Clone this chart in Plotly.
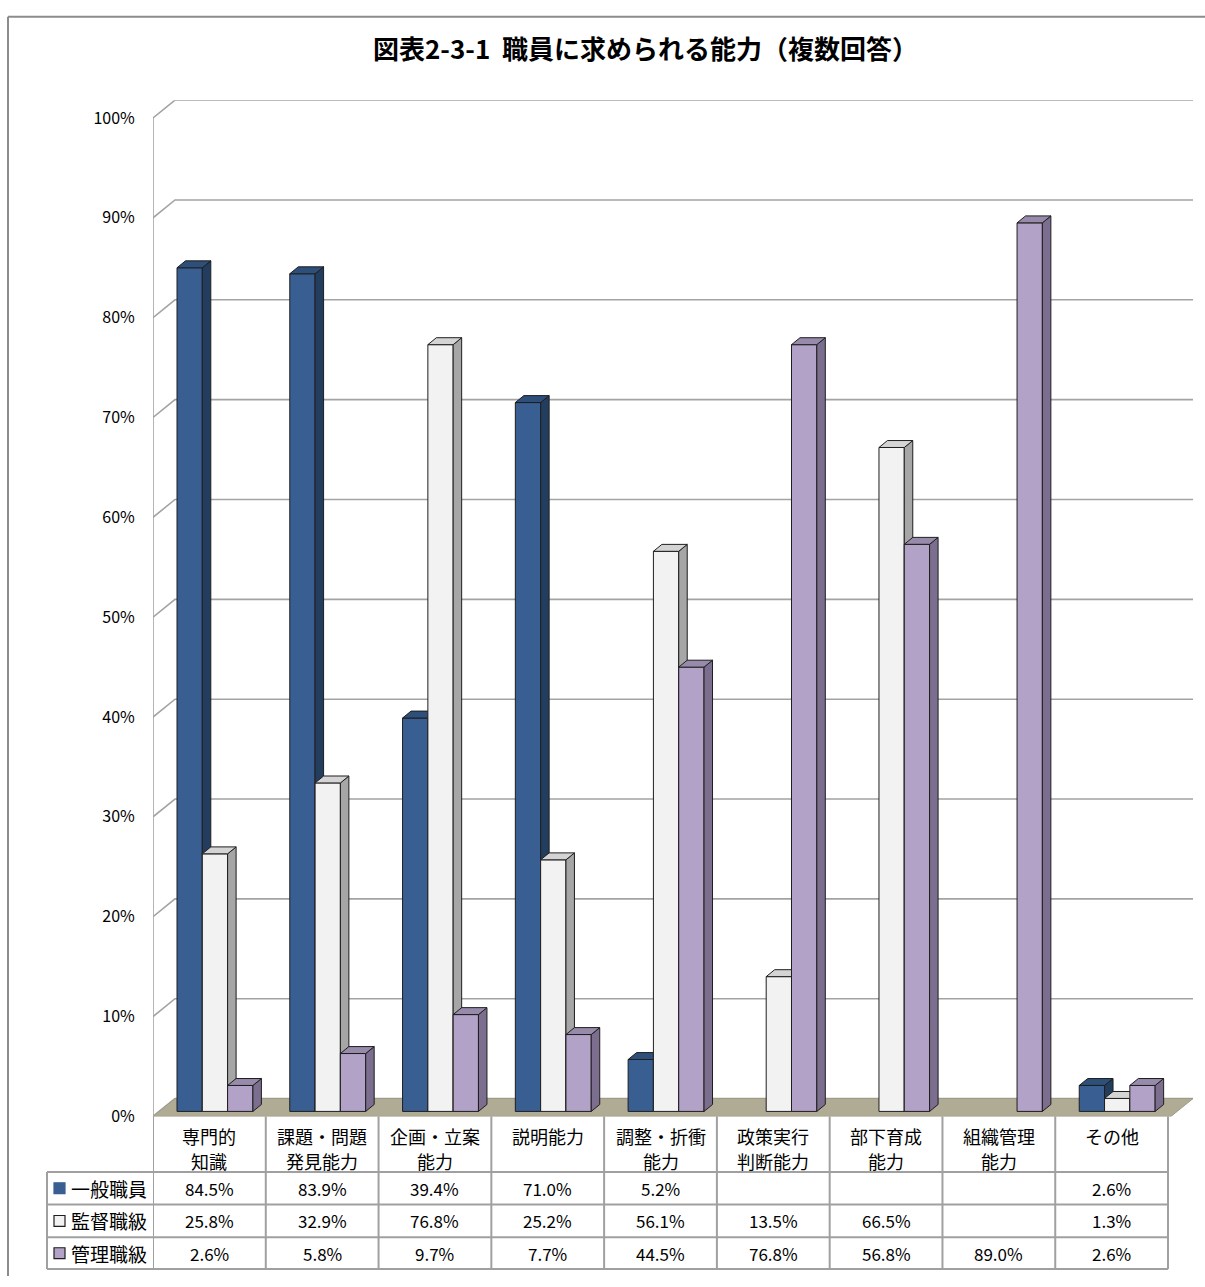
import plotly.graph_objects as go

# ---------------- data ----------------
categories = ["専門的<br>知識", "課題・問題<br>発見能力", "企画・立案<br>能力", "説明能力",
              "調整・折衝<br>能力", "政策実行<br>判断能力", "部下育成<br>能力", "組織管理<br>能力", "その他"]
series_names = ["一般職員", "監督職級", "管理職級"]
general = [84.5, 83.9, 39.4, 71.0, 5.2, None, None, None, 2.6]
supervisor = [25.8, 32.9, 76.8, 25.2, 56.1, 13.5, 66.5, None, 1.3]
manager = [2.6, 5.8, 9.7, 7.7, 44.5, 76.8, 56.8, 89.0, 2.6]
tick_values = [0, 10, 20, 30, 40, 50, 60, 70, 80, 90, 100]
tick_labels = [f"{t}%" for t in tick_values]
title_text = "図表2-3-1  職員に求められる能力（複数回答）"

series_values = [general, supervisor, manager]
front_colors = ["#395f92", "#f2f2f2", "#b3a2c7"]
side_colors = ["#233d5f", "#a6a6a6", "#7b6e8e"]
top_colors = ["#2d4f7a", "#d4d4d4", "#978aab"]
key_colors = ["#395f92", "#f2f2f2", "#b3a2c7"]

FONT = "Noto Sans CJK JP"

# ---------------- geometry ----------------
W, H = 1205, 1287
PX_X0 = 153.0
CAT_W = 112.78
X_RIGHT = 1195.0
Y0_PX = 1126.0
UNIT_PX = 1007.0
Y_TOP_PX = 101.0


def py(ypx):
    return (H - ypx) / H


xr0 = -0.5
xr1 = -0.5 + (X_RIGHT - PX_X0) / CAT_W
yr1 = (Y0_PX - Y_TOP_PX) / UNIT_PX

DX = 22 / CAT_W
DY = 18 / UNIT_PX
BACK_R = -0.5 + (1193 - PX_X0) / CAT_W
BW = 25.3 / CAT_W
BOFF = 24 / CAT_W
BBASE = 5 / UNIT_PX
DDX = 8.5 / CAT_W
DDY = 7 / UNIT_PX

fig = go.Figure()

# ---------------- bars (front, side, top faces) ----------------
for s, vals in enumerate(series_values):
    fx, fy, sx, sy, tx, ty = [], [], [], [], [], []
    for i, v in enumerate(vals):
        if v is None:
            continue
        x0 = i - 0.5 + BOFF + s * BW
        x1 = x0 + BW
        y0 = BBASE
        y1 = BBASE + v / 100.0
        fx += [x0, x1, x1, x0, x0, None]
        fy += [y0, y0, y1, y1, y0, None]
        sx += [x1, x1 + DDX, x1 + DDX, x1, x1, None]
        sy += [y0, y0 + DDY, y1 + DDY, y1, y0, None]
        tx += [x0, x0 + DDX, x1 + DDX, x1, x0, None]
        ty += [y1, y1 + DDY, y1 + DDY, y1, y1, None]
    for xs, ys, col in ((fx, fy, front_colors[s]), (sx, sy, side_colors[s]), (tx, ty, top_colors[s])):
        fig.add_trace(go.Scatter(x=xs, y=ys, mode="lines", fill="toself", fillcolor=col,
                                 line=dict(color="#1e1e1e", width=1), hoverinfo="skip",
                                 showlegend=False))

shapes = []
# outer frame
shapes.append(dict(type="line", xref="paper", yref="paper", x0=8 / W, x1=1.0, y0=py(17), y1=py(17),
                   line=dict(color="#8c8c8c", width=2)))
shapes.append(dict(type="line", xref="paper", yref="paper", x0=8 / W, x1=8 / W, y0=py(17), y1=0,
                   line=dict(color="#8c8c8c", width=2)))

# back-wall gridlines
for t in tick_values:
    yv = t / 100.0
    shapes.append(dict(type="path", xref="x", yref="y", layer="below",
                       path=f"M {-0.5} {yv} L {-0.5 + DX} {yv + DY} L {BACK_R} {yv + DY}",
                       line=dict(color="#a3a3a3", width=1.6)))
# floor
shapes.append(dict(type="path", xref="x", yref="y", layer="below",
                   path=f"M {-0.5} 0 L {-0.5 + DX} {DY} L {BACK_R} {DY} L {BACK_R - DX} 0 Z",
                   fillcolor="#b0ab95", line=dict(color="#a09b85", width=1)))
# left wall vertical edge
shapes.append(dict(type="line", xref="x", yref="y", layer="below", x0=-0.5, x1=-0.5, y0=0, y1=1.0,
                   line=dict(color="#a3a3a3", width=1.6)))

# ---------------- data table ----------------
TBL_TOP = 1126
ROW_LINES = [1182, 1215, 1248, 1280]
TBL_LEFT = 47
grid_col = "#a0a0a0"
n = len(categories)
for k in range(n + 1):
    xb = k - 0.5
    shapes.append(dict(type="line", xref="x", yref="paper", x0=xb, x1=xb, y0=py(TBL_TOP), y1=py(ROW_LINES[-1]),
                       line=dict(color=grid_col, width=2)))
shapes.append(dict(type="line", xref="paper", yref="paper", x0=TBL_LEFT / W, x1=TBL_LEFT / W,
                   y0=py(ROW_LINES[0]), y1=py(ROW_LINES[-1]), line=dict(color=grid_col, width=2)))
for yl in ROW_LINES:
    shapes.append(dict(type="line", xref="paper", yref="paper", x0=TBL_LEFT / W, x1=(PX_X0 + n * CAT_W) / W,
                       y0=py(yl), y1=py(yl), line=dict(color=grid_col, width=2)))

annotations = []
annotations.append(dict(text=f"<b>{title_text}</b>", xref="paper", yref="paper", x=645 / W, y=py(48),
                        xanchor="center", yanchor="middle", showarrow=False,
                        font=dict(family=FONT, size=26, color="#000")))
HEADER_LINE_Y = [1146, 1171]
for i, c in enumerate(categories):
    for j, part in enumerate(c.split("<br>")):
        annotations.append(dict(text=part, xref="x", yref="paper", x=i, y=py(HEADER_LINE_Y[j]),
                                xanchor="center", yanchor="middle", showarrow=False,
                                font=dict(family=FONT, size=18, color="#000")))
for s, vals in enumerate(series_values):
    yc = (ROW_LINES[s] + ROW_LINES[s + 1]) / 2
    shapes.append(dict(type="rect", xref="paper", yref="paper", x0=54 / W, x1=65 / W,
                       y0=py(yc + 5.5), y1=py(yc - 5.5), fillcolor=key_colors[s],
                       line=dict(color="#1e1e1e" if s > 0 else key_colors[s], width=1.2)))
    annotations.append(dict(text=series_names[s], xref="paper", yref="paper", x=69 / W, y=py(yc),
                            xanchor="left", yanchor="middle", showarrow=False,
                            font=dict(family=FONT, size=19, color="#000")))
    for i, v in enumerate(vals):
        if v is None:
            continue
        annotations.append(dict(text=f"{v:.1f}%", xref="x", yref="paper", x=i, y=py(yc),
                                xanchor="center", yanchor="middle", showarrow=False,
                                font=dict(family=FONT, size=17, color="#000")))

fig.update_layout(
    width=W, height=H, margin=dict(l=0, r=0, t=0, b=0),
    paper_bgcolor="white", plot_bgcolor="white", showlegend=False,
    xaxis=dict(domain=[PX_X0 / W, X_RIGHT / W], range=[xr0, xr1], visible=False, fixedrange=True),
    yaxis=dict(domain=[py(Y0_PX), py(Y_TOP_PX)], range=[0, yr1],
               tickvals=[t / 100.0 for t in tick_values], ticktext=tick_labels,
               showgrid=False, zeroline=False, showline=False, ticks="outside", ticklen=14,
               tickcolor="rgba(0,0,0,0)", tickfont=dict(family=FONT, size=16, color="#000"),
               fixedrange=True),
    shapes=shapes, annotations=annotations,
)

fig.write_html("out.html")
